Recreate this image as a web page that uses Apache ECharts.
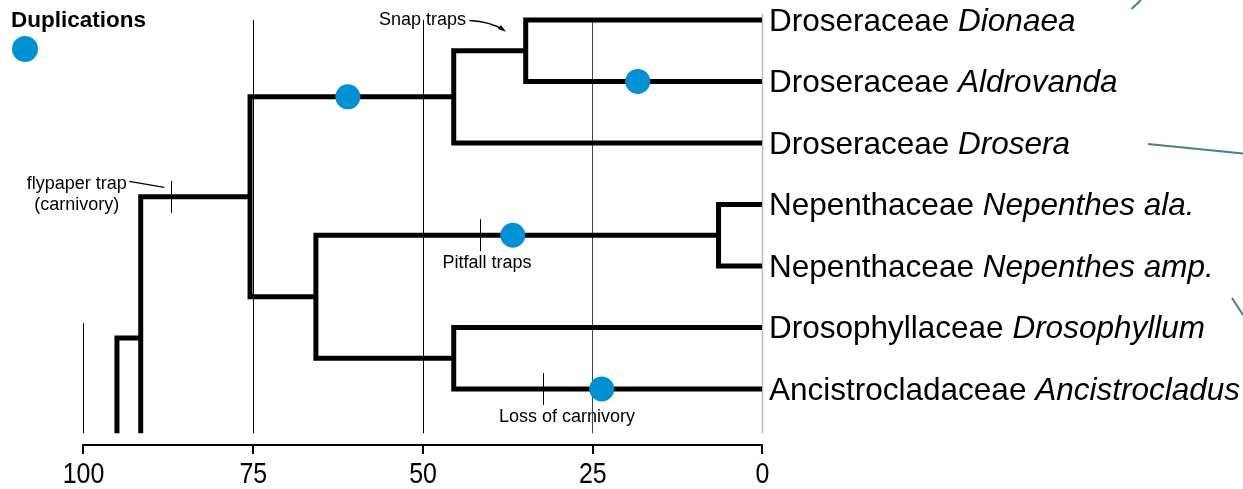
<!DOCTYPE html>
<html><head><meta charset="utf-8">
<script src="https://cdn.jsdelivr.net/npm/echarts@6/dist/echarts.min.js"></script>
<style>html,body{margin:0;padding:0;background:#fff}#c{width:1243px;height:489px}</style>
</head><body><div id="c"></div>
<script>
// ---------- data ----------
const families = ['Droseraceae','Droseraceae','Droseraceae','Nepenthaceae','Nepenthaceae','Drosophyllaceae','Ancistrocladaceae'];
const genera = ['Dionaea','Aldrovanda','Drosera','Nepenthes ala.','Nepenthes amp.','Drosophyllum','Ancistrocladus'];
const nodeIds = ['dioAld','droseraceae','nepenthes','drosAnc','core','root','stem','outer'];
const nodeAges = [34.8, 45.4, 6.4, 45.4, 65.7, 75.4, 91.5, 95.0];
const nodeChildren = [['t0','t1'],['dioAld','t2'],['t3','t4'],['t5','t6'],['nepenthes','drosAnc'],['droseraceae','core'],['root','h0'],['stem','h1']];
const hiddenIds = ['h0','h1'];            // lineages cropped below the frame
const hiddenRows = [7.47, 9.0];
const duplicationAges = [61.0, 18.3, 36.7, 23.6];
const duplicationBranch = ['droseraceae','t1','nepenthes','t6'];
const tickValues = [100, 75, 50, 25, 0];
const tickLabels = ['100','75','50','25','0'];
const gridTopRows = [4.93, 0, 0, 0, -0.1];
const markerLabels = ['flypaper trap\n(carnivory)','Pitfall traps','Loss of carnivory'];
const markerAges = [87.0, 41.5, 32.3];
const markerBranch = ['root','nepenthes','t6'];
const snapLabel = 'Snap traps';
const snapAge = 50.0;
const snapBranch = 't0';

// ---------- styles ----------
const F = "'Liberation Sans', Arial, Helvetica, sans-serif";
const DOT = '#0091d4';
const gridColors = ['#000','#000','#000','#444','#bbb'];
const gridWidths = [1,1,1,1,1.5];
const markerLayout = [
  {dx:-94.5, dy:-2.5, lead:[-42,-15.5,-7,-9.5]},
  {dx:6.7, dy:27.7},
  {dx:24.3, dy:28}
];
const Y_MIN = -0.3, Y_MAX = 6.72;

// ---------- tree layout ----------
const pos = {};
families.forEach((f,i)=>{ pos['t'+i] = {age:0, row:i}; });
hiddenIds.forEach((h,i)=>{ pos[h] = {age:0, row:hiddenRows[i]}; });
nodeIds.forEach((id,i)=>{
  const ch = nodeChildren[i].map(c=>pos[c]);
  pos[id] = {age:nodeAges[i], row:(ch[0].row + ch[ch.length-1].row)/2};
});
const polylines = nodeIds.map((id,i)=>{
  const n = pos[id];
  const a = pos[nodeChildren[i][0]], b = pos[nodeChildren[i][1]];
  return [[a.age,a.row],[n.age,a.row],[n.age,b.row],[b.age,b.row]];
});

const chart = echarts.init(document.getElementById('c'), null, {renderer:'canvas'});

function clipOf(params){
  const c = params.coordSys;
  return {type:'rect', shape:{x:c.x-10, y:c.y-10, width:c.width+20, height:c.height+10}};
}

chart.setOption({
  animation:false,
  backgroundColor:'#fff',
  title:{text:'Duplications', left:11, top:9, padding:0,
    textStyle:{fontSize:22.5, fontWeight:'bold', fontFamily:F, color:'#000'}},
  legend:{data:['Duplications'], left:12, top:36, padding:0, icon:'circle',
    itemWidth:26, itemHeight:26, formatter:()=>'', selectedMode:false},
  grid:{left:83, right:481, top:1.5, bottom:55.7, containLabel:false},
  xAxis:{type:'value', inverse:true, min:0, max:100, interval:25, offset:11.7,
    axisLine:{show:true, onZero:false, lineStyle:{color:'#000', width:2}},
    axisTick:{show:true, length:9, lineStyle:{color:'#000', width:2}},
    axisLabel:{show:false},
    splitLine:{show:false}},
  yAxis:{type:'value', inverse:true, min:Y_MIN, max:Y_MAX, show:false},
  series:[
    { // gridlines
      type:'custom', silent:true, z:1,
      data: tickValues.map((v,i)=>[v, gridTopRows[i]]),
      renderItem:(params, api)=>{
        const i = params.dataIndex;
        const t = api.coord([api.value(0), api.value(1)]);
        const b = api.coord([api.value(0), Y_MAX]);
        const x = Math.round(t[0]) + 0.5;
        return {type:'line', shape:{x1:x, y1:t[1], x2:x, y2:b[1]},
          style:{stroke:gridColors[i], lineWidth:gridWidths[i]}};
      }
    },
    { // axis tick labels (narrow face)
      type:'custom', silent:true, z:3,
      data: tickValues.map(v=>[v, Y_MAX]),
      renderItem:(params, api)=>{
        const p = api.coord([api.value(0), api.value(1)]);
        return {type:'text', x:p[0]+0.5, y:p[1]+41.4, scaleX:0.86, scaleY:1,
          style:{text:tickLabels[params.dataIndex], x:0, y:0, fontSize:29, fontFamily:F, fill:'#000',
            align:'center', verticalAlign:'middle'}};
      }
    },
    { // branches
      type:'custom', silent:true, z:2,
      data: nodeIds.map(id=>[pos[id].age, pos[id].row]),
      renderItem:(params, api)=>{
        const pts = polylines[params.dataIndex].map(p=>api.coord(p));
        return {type:'polyline', shape:{points:pts}, clipPath:clipOf(params),
          style:{stroke:'#000', lineWidth:5, fill:null, lineJoin:'miter', lineCap:'butt'}};
      }
    },
    { // annotation ticks & labels
      type:'custom', silent:true, z:3,
      data: markerAges.map((a,i)=>[a, pos[markerBranch[i]].row]),
      renderItem:(params, api)=>{
        const i = params.dataIndex;
        const p = api.coord([api.value(0), api.value(1)]);
        const L = markerLayout[i];
        const x = Math.round(p[0]) + 0.5;
        const kids = [
          {type:'line', shape:{x1:x, y1:p[1]-16, x2:x, y2:p[1]+16}, style:{stroke:'#000', lineWidth:1}},
          {type:'text', x:p[0]+L.dx, y:p[1]+L.dy,
            style:{text:markerLabels[i], fontSize:18, fontFamily:F, fill:'#000',
              align:'center', verticalAlign:'middle', lineHeight:21}}
        ];
        if (L.lead) kids.push({type:'line', shape:{x1:p[0]+L.lead[0], y1:p[1]+L.lead[1], x2:p[0]+L.lead[2], y2:p[1]+L.lead[3]},
          style:{stroke:'#000', lineWidth:1.3}});
        return {type:'group', children:kids};
      }
    },
    { // snap traps label + arrow
      type:'custom', silent:true, z:3,
      data: [[snapAge, pos[snapBranch].row]],
      renderItem:(params, api)=>{
        const p = api.coord([api.value(0), api.value(1)]);
        const x0=p[0], y0=p[1];
        const ex = x0+81, ey = y0+10;
        const dx = 0.8, dy = 0.6, px = -0.6, py = 0.8;
        return {type:'group', children:[
          {type:'text', x:x0, y:y0+0.5, style:{text:snapLabel, fontSize:18, fontFamily:F, fill:'#000',
            align:'center', verticalAlign:'middle'}},
          {type:'bezierCurve', shape:{x1:x0+47, y1:y0+0.5, cpx1:x0+68, cpy1:y0+1.5, x2:ex, y2:ey},
            style:{stroke:'#000', lineWidth:1.5, fill:null}},
          {type:'polygon', shape:{points:[[ex+dx*3, ey+dy*3],[ex-dx*5+px*2.5, ey-dy*5+py*2.5],[ex-dx*5-px*2.5, ey-dy*5-py*2.5]]},
            style:{fill:'#000'}}
        ]};
      }
    },
    { // tip labels
      type:'custom', silent:true, z:3,
      data: genera.map((g,i)=>[0, i]),
      renderItem:(params, api)=>{
        const i = params.dataIndex;
        const p = api.coord([0, api.value(1)]);
        return {type:'text', x:p[0]+7, y:p[1]+2,
          style:{text:'{f|'+families[i]+'} {g|'+genera[i]+'}',
            rich:{f:{fontSize:31.5, fontFamily:F, fill:'#000'}, g:{fontSize:31.5, fontFamily:F, fontStyle:'italic', fill:'#000'}},
            fontSize:31.5, fontFamily:F, fill:'#000', align:'left', verticalAlign:'middle'}};
      }
    },
    { // duplications
      name:'Duplications', type:'scatter', z:5, symbol:'circle', symbolSize:25,
      itemStyle:{color:DOT, opacity:1}, silent:true,
      data: duplicationAges.map((a,i)=>[a, pos[duplicationBranch[i]].row])
    }
  ],
  graphic:[
    {type:'line', shape:{x1:1131.5, y1:9, x2:1141, y2:0}, style:{stroke:'#4a7f7f', lineWidth:2}},
    {type:'line', shape:{x1:1148, y1:144, x2:1243, y2:153.5}, style:{stroke:'#4a7f7f', lineWidth:2}},
    {type:'line', shape:{x1:1232, y1:298, x2:1243, y2:315}, style:{stroke:'#4a7f7f', lineWidth:2}}
  ]
});
</script>
</body></html>
